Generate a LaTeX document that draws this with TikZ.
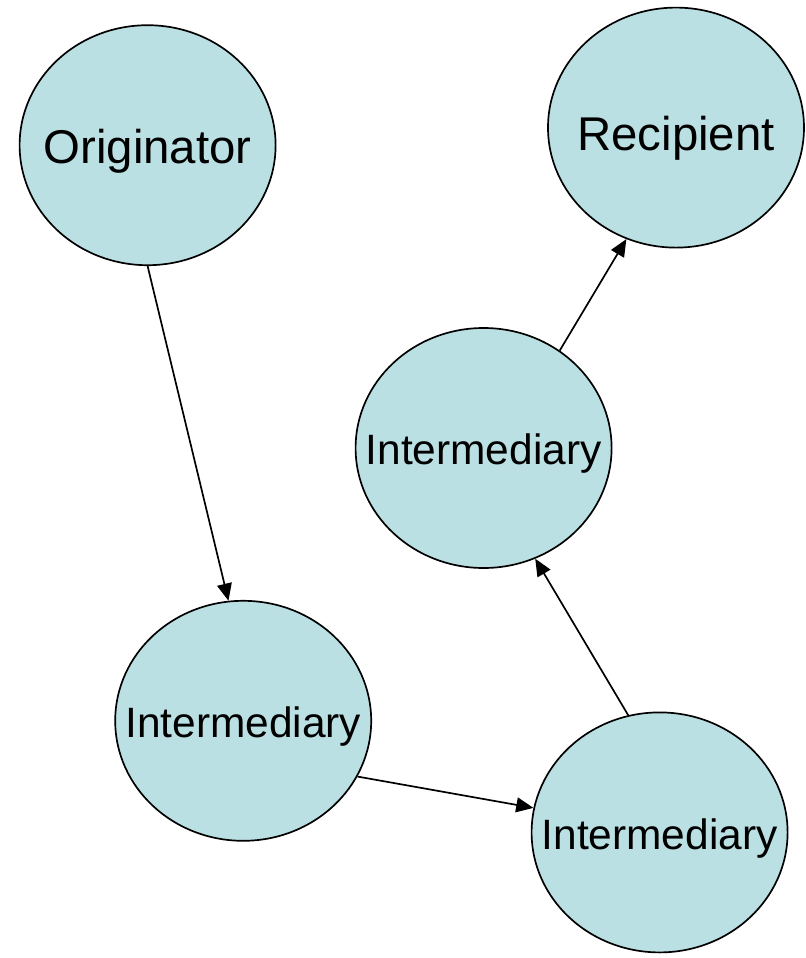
\documentclass[tikz,border=0pt]{standalone}
\usepackage{fontspec}
\setmainfont{Liberation Sans}
\usetikzlibrary{shapes.geometric,arrows.meta}
\definecolor{partyfill}{RGB}{187,224,227}
\newcommand{\partyname}[1]{\makebox[0pt]{#1}}
\begin{document}
\begin{tikzpicture}[
		party/.style = {
			ellipse,
			draw,
			line width = 1.2pt,
			fill = partyfill,
			inner sep = 0pt,
			minimum width = 6.4cm,
			minimum height = 6.0cm,
			text height = 26.3pt,
			text depth = 0pt,
			font = \fontsize{33.7}{40}\selectfont
		},
		relay/.style = {
			party,
			text height = 23.6pt,
			font = \fontsize{30.2}{36}\selectfont
		},
		hop/.style = {
			line width = 1.2pt,
			-{Triangle[length=4.3mm,width=3.7mm]}
		}
	]
	\useasboundingbox (0,0) rectangle (20.15,-23.95);
	\node[party]                     (orig)   at ( 3.69, -3.63) {\partyname{Originator}};
	\node[party, text height=32pt]   (recip)  at (16.90, -3.19) {\partyname{Recipient}};
	\node[relay]                     (imid)   at (12.09,-11.20) {\partyname{Intermediary}};
	\node[relay]                     (ileft)  at ( 6.08,-18.02) {\partyname{Intermediary}};
	\node[relay]                     (iright) at (16.49,-20.81) {\partyname{Intermediary}};
	% message path
	\draw[hop] (orig.south)  -- (ileft.97);
	\draw[hop] (ileft.-26)   -- (iright.169);
	\draw[hop] (iright.105)  -- (imid.-65);
	\draw[hop] (imid.52)     -- (recip.246);
\end{tikzpicture}
\end{document}
